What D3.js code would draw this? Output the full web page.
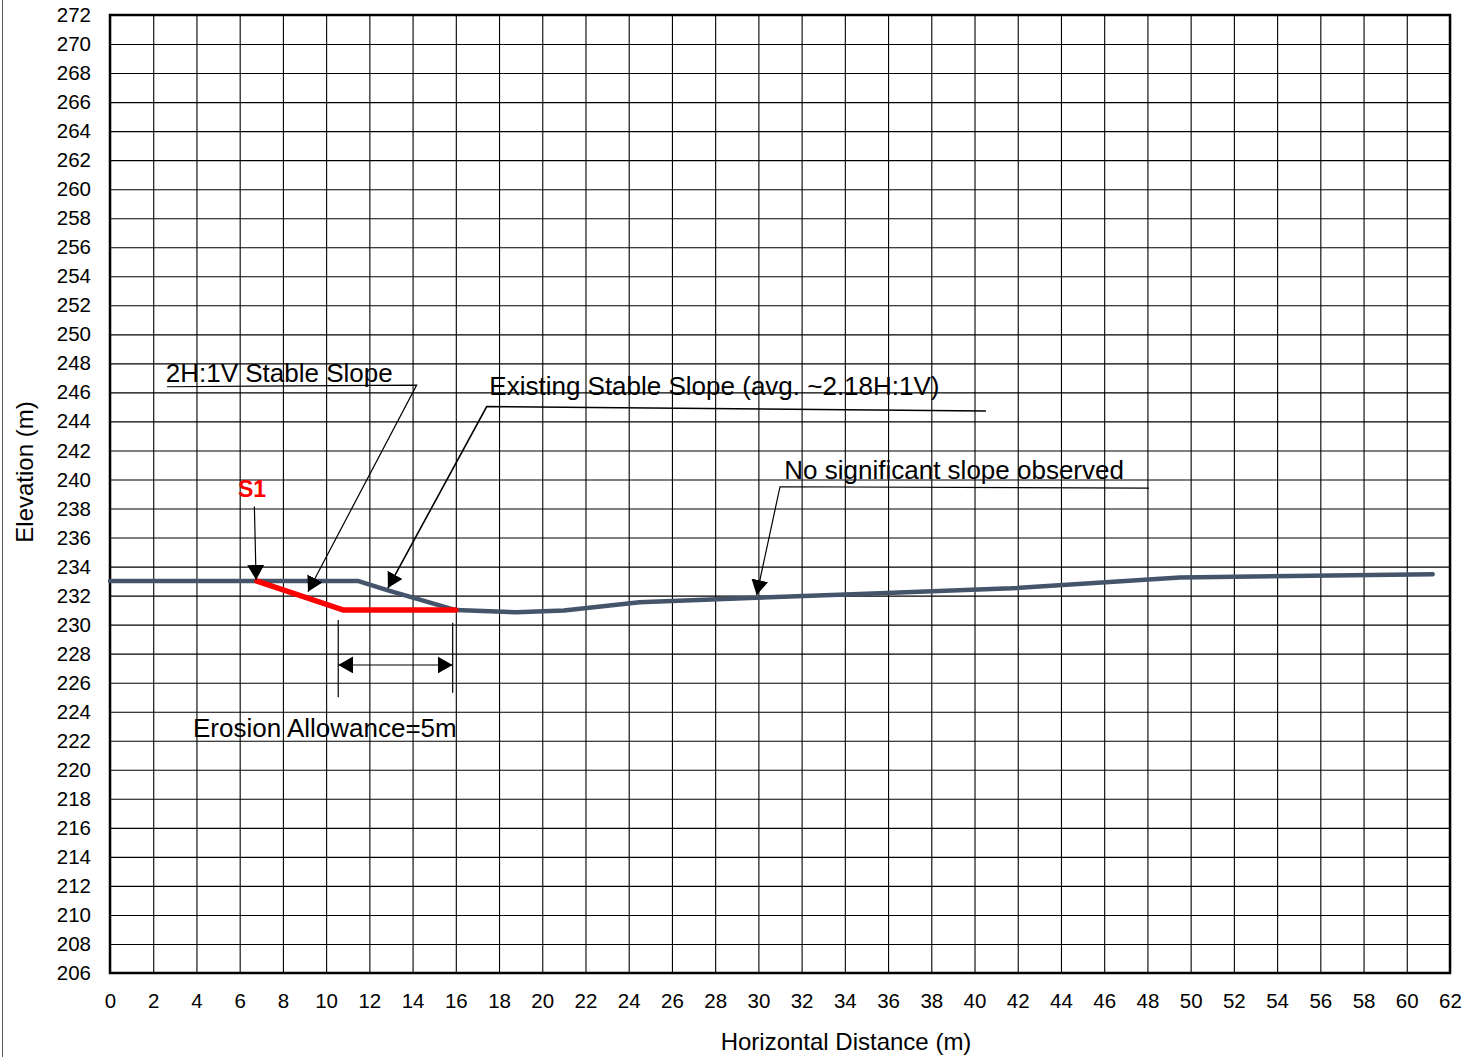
<!DOCTYPE html>
<html>
<head>
<meta charset="utf-8">
<script src="https://cdn.jsdelivr.net/npm/d3@7"></script>
<style>
  html, body { margin: 0; padding: 0; background: #fff; }
  svg { display: block; font-family: "Liberation Sans", Arial, sans-serif; }
</style>
</head>
<body>
<svg id="chart" width="1469" height="1057"></svg>
<script>
// Existing ground profile (horizontal distance m, elevation m)
const groundDistance  = [0, 11.5, 12.9, 16.0, 18.8, 21.0, 24.5, 29.9, 35.0, 41.7, 49.5, 61.2];
const groundElevation = [233.0, 233.0, 232.35, 231.0, 230.85, 230.97, 231.54, 231.85, 232.13, 232.5, 233.25, 233.47];

// 2H:1V stable slope with the 5 m erosion allowance at the toe
const stableDistance  = [6.8, 10.8, 16.0];
const stableElevation = [233.0, 231.0, 231.0];

// Axis ticks
const xTickValues = [0, 2, 4, 6, 8, 10, 12, 14, 16, 18, 20, 22, 24, 26, 28, 30, 32, 34, 36, 38, 40,
                     42, 44, 46, 48, 50, 52, 54, 56, 58, 60, 62];
const yTickValues = [206, 208, 210, 212, 214, 216, 218, 220, 222, 224, 226, 228, 230, 232, 234, 236,
                     238, 240, 242, 244, 246, 248, 250, 252, 254, 256, 258, 260, 262, 264, 266, 268, 270, 272];

// Callout labels: text anchor, then leader polyline ending in an arrow (data units)
const calloutText   = ["2H:1V Stable Slope", "Existing Stable Slope (avg. ~2.18H:1V)", "No significant slope observed"];
const calloutAnchor = [[2.58, 246.74], [17.55, 245.8], [31.2, 240.04]];
const calloutLeader = [
  [[2.64, 246.39], [14.19, 246.5], [9.16, 232.27]],
  [[40.53, 244.72], [17.43, 245.02], [12.86, 232.52]],
  [[48.07, 239.41], [31.0, 239.5], [29.92, 232.04]]
];

// Section marker S1
const sectionLabel  = "S1";
const sectionAnchor = [5.92, 238.81];
const sectionArrow  = [[6.68, 238.13], [6.76, 233.08]];

// Erosion allowance dimension
const erosionLabel  = "Erosion Allowance=5m";
const erosionAnchor = [3.84, 222.26];
const erosionLeft   = [[10.56, 230.32], [10.56, 225.0]];
const erosionRight  = [[15.855, 230.13], [15.855, 225.31]];
const erosionArrow  = [[10.56, 227.22], [15.855, 227.22]];

const svg = d3.select("#chart");
const margin = { left: 110, top: 15, right: 1469 - 1450, bottom: 1057 - 973 };
const W = 1469, H = 1057;
const innerW = W - margin.left - margin.right;
const innerH = H - margin.top - margin.bottom;

const x = d3.scaleLinear().domain([0, 62]).range([margin.left, margin.left + innerW]);
const y = d3.scaleLinear().domain([206, 272]).range([margin.top + innerH, margin.top]);

// outer chart-area border (left edge)
svg.append("line").attr("x1", 2.5).attr("x2", 2.5).attr("y1", 0).attr("y2", H)
  .attr("stroke", "#595959").attr("stroke-width", 1);

// arrowhead
const defs = svg.append("defs");
defs.append("marker")
  .attr("id", "arrow").attr("viewBox", "0 0 15 17")
  .attr("refX", 15).attr("refY", 8.5)
  .attr("markerWidth", 15).attr("markerHeight", 17)
  .attr("markerUnits", "userSpaceOnUse")
  .attr("orient", "auto-start-reverse")
  .append("path").attr("d", "M0,0 L15,8.5 L0,17 Z").attr("fill", "#000");

// gridlines
const gridX = svg.append("g").attr("transform", `translate(0,${margin.top + innerH})`)
  .call(d3.axisBottom(x).tickValues(xTickValues).tickSize(-innerH).tickFormat(""));
const gridY = svg.append("g").attr("transform", `translate(${margin.left},0)`)
  .call(d3.axisLeft(y).tickValues(yTickValues).tickSize(-innerW).tickFormat(""));
[gridX, gridY].forEach(g => {
  g.select(".domain").remove();
  g.selectAll(".tick line").attr("stroke", "#000").attr("stroke-width", 1.1);
});

// tick labels
const axX = svg.append("g").attr("transform", `translate(0,${margin.top + innerH})`)
  .call(d3.axisBottom(x).tickValues(xTickValues).tickSize(0).tickPadding(20).tickFormat(d3.format("d")));
const axY = svg.append("g").attr("transform", `translate(${margin.left},0)`)
  .call(d3.axisLeft(y).tickValues(yTickValues).tickSize(0).tickPadding(19).tickFormat(d3.format("d")));
[axX, axY].forEach(g => {
  g.select(".domain").remove();
  g.selectAll("text").attr("font-size", "20.5px").attr("fill", "#000")
    .attr("font-family", "'Liberation Sans', Arial, sans-serif");
});

// plot frame
svg.append("rect")
  .attr("x", margin.left).attr("y", margin.top)
  .attr("width", innerW).attr("height", innerH)
  .attr("fill", "none").attr("stroke", "#000").attr("stroke-width", 2.5);

// axis titles
svg.append("text")
  .attr("x", 846).attr("y", 1050)
  .attr("text-anchor", "middle").attr("font-size", "24px").attr("fill", "#000")
  .text("Horizontal Distance (m)");
svg.append("text")
  .attr("transform", `translate(33,472) rotate(-90)`)
  .attr("text-anchor", "middle").attr("font-size", "24px").attr("fill", "#000")
  .text("Elevation (m)");

const line = d3.line().x(d => x(d[0])).y(d => y(d[1]));

// ground profile
svg.append("path")
  .datum(groundDistance.map((d, i) => [d, groundElevation[i]]))
  .attr("d", line)
  .attr("fill", "none").attr("stroke", "#44546a").attr("stroke-width", 4.5)
  .attr("stroke-linejoin", "round").attr("stroke-linecap", "round");

// stable slope
svg.append("path")
  .datum(stableDistance.map((d, i) => [d, stableElevation[i]]))
  .attr("d", line)
  .attr("fill", "none").attr("stroke", "#ff0000").attr("stroke-width", 5.5)
  .attr("stroke-linejoin", "miter").attr("stroke-linecap", "round");

// callouts
calloutText.forEach((t, i) => {
  svg.append("text")
    .attr("x", x(calloutAnchor[i][0])).attr("y", y(calloutAnchor[i][1]))
    .attr("font-size", "26px").attr("fill", "#000").text(t);
  svg.append("path")
    .datum(calloutLeader[i])
    .attr("d", line)
    .attr("fill", "none").attr("stroke", "#000").attr("stroke-width", i === 1 ? 1.6 : 1.2)
    .attr("marker-end", "url(#arrow)");
});

// S1 marker
svg.append("text")
  .attr("x", x(sectionAnchor[0])).attr("y", y(sectionAnchor[1]))
  .attr("font-size", "23px").attr("font-weight", "bold").attr("fill", "#ff0000")
  .text(sectionLabel);
svg.append("path").datum(sectionArrow).attr("d", line)
  .attr("fill", "none").attr("stroke", "#000").attr("stroke-width", 1.2)
  .attr("marker-end", "url(#arrow)");

// erosion allowance dimension
[erosionLeft, erosionRight].forEach(seg => {
  svg.append("path").datum(seg).attr("d", line)
    .attr("fill", "none").attr("stroke", "#000").attr("stroke-width", 1.2);
});
svg.append("path").datum(erosionArrow).attr("d", line)
  .attr("fill", "none").attr("stroke", "#000").attr("stroke-width", 1.2)
  .attr("marker-start", "url(#arrow)").attr("marker-end", "url(#arrow)");
svg.append("text")
  .attr("x", x(erosionAnchor[0])).attr("y", y(erosionAnchor[1]))
  .attr("font-size", "26px").attr("fill", "#000").text(erosionLabel);
</script>
</body>
</html>
